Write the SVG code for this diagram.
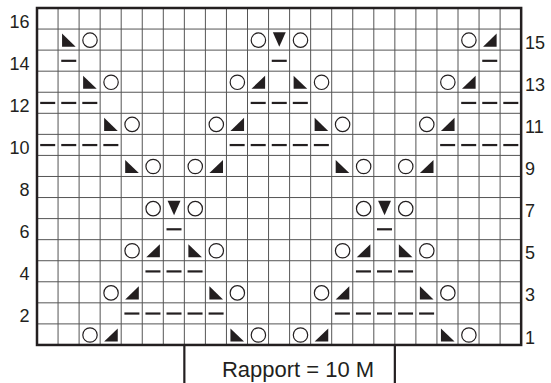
<svg xmlns="http://www.w3.org/2000/svg" xmlns:xlink="http://www.w3.org/1999/xlink" width="551" height="383" viewBox="0 0 551 383">
<style>
.grid{fill:none;stroke:#555;stroke-width:1}
.border{fill:none;stroke:#231f20;stroke-width:2.5}
.box{fill:none;stroke:#231f20;stroke-width:2.2}
.num{font-family:"Liberation Sans",Arial,sans-serif;font-size:18px;fill:#231f20}
.lab{font-family:"Liberation Sans",Arial,sans-serif;font-size:22px;fill:#231f20}
</style>
<defs>
<circle id="yo" cx="10.9" cy="11.1" r="7.2" fill="#fff" stroke="#231f20" stroke-width="1.2"/>
<polygon id="kl" points="4,4.5 4,17.6 17.6,17.6" fill="#231f20"/>
<polygon id="kr" points="17.6,4.5 17.6,17.6 4,17.6" fill="#231f20"/>
<polygon id="dd" points="4.3,3.2 17.2,3.2 10.75,17.6" fill="#231f20"/>
<rect id="pm" x="3.2" y="9.6" width="15" height="2.2" fill="#231f20"/>
</defs>
<rect width="551" height="383" fill="#fff"/>
<g id="grid">
<path class="grid" d="M58.05,8V344.96M79.1,8V344.96M100.15,8V344.96M121.2,8V344.96M142.25,8V344.96M163.3,8V344.96M184.35,8V344.96M205.4,8V344.96M226.45,8V344.96M247.5,8V344.96M268.55,8V344.96M289.6,8V344.96M310.65,8V344.96M331.7,8V344.96M352.75,8V344.96M373.8,8V344.96M394.85,8V344.96M415.9,8V344.96M436.95,8V344.96M458,8V344.96M479.05,8V344.96M500.1,8V344.96M37,29.06H521.15M37,50.12H521.15M37,71.18H521.15M37,92.24H521.15M37,113.3H521.15M37,134.36H521.15M37,155.42H521.15M37,176.48H521.15M37,197.54H521.15M37,218.6H521.15M37,239.66H521.15M37,260.72H521.15M37,281.78H521.15M37,302.84H521.15M37,323.9H521.15"/>
<rect class="border" x="37" y="8" width="484.15" height="336.96"/>
</g>
<g id="symbols">
<g id="row1">
<use xlink:href="#yo" x="79.1" y="323.9"/><use xlink:href="#kr" x="100.15" y="323.9"/>
<use xlink:href="#kl" x="226.45" y="323.9"/><use xlink:href="#yo" x="247.5" y="323.9"/>
<use xlink:href="#yo" x="289.6" y="323.9"/><use xlink:href="#kr" x="310.65" y="323.9"/>
<use xlink:href="#kl" x="436.95" y="323.9"/><use xlink:href="#yo" x="458" y="323.9"/>
</g>
<g id="row2">
<use xlink:href="#pm" x="121.2" y="302.84"/><use xlink:href="#pm" x="142.25" y="302.84"/><use xlink:href="#pm" x="163.3" y="302.84"/><use xlink:href="#pm" x="184.35" y="302.84"/><use xlink:href="#pm" x="205.4" y="302.84"/>
<use xlink:href="#pm" x="331.7" y="302.84"/><use xlink:href="#pm" x="352.75" y="302.84"/><use xlink:href="#pm" x="373.8" y="302.84"/><use xlink:href="#pm" x="394.85" y="302.84"/><use xlink:href="#pm" x="415.9" y="302.84"/>
</g>
<g id="row3">
<use xlink:href="#yo" x="100.15" y="281.78"/><use xlink:href="#kr" x="121.2" y="281.78"/>
<use xlink:href="#kl" x="205.4" y="281.78"/><use xlink:href="#yo" x="226.45" y="281.78"/>
<use xlink:href="#yo" x="310.65" y="281.78"/><use xlink:href="#kr" x="331.7" y="281.78"/>
<use xlink:href="#kl" x="415.9" y="281.78"/><use xlink:href="#yo" x="436.95" y="281.78"/>
</g>
<g id="row4">
<use xlink:href="#pm" x="142.25" y="260.72"/><use xlink:href="#pm" x="163.3" y="260.72"/><use xlink:href="#pm" x="184.35" y="260.72"/>
<use xlink:href="#pm" x="352.75" y="260.72"/><use xlink:href="#pm" x="373.8" y="260.72"/><use xlink:href="#pm" x="394.85" y="260.72"/>
</g>
<g id="row5">
<use xlink:href="#yo" x="121.2" y="239.66"/><use xlink:href="#kr" x="142.25" y="239.66"/>
<use xlink:href="#kl" x="184.35" y="239.66"/><use xlink:href="#yo" x="205.4" y="239.66"/>
<use xlink:href="#yo" x="331.7" y="239.66"/><use xlink:href="#kr" x="352.75" y="239.66"/>
<use xlink:href="#kl" x="394.85" y="239.66"/><use xlink:href="#yo" x="415.9" y="239.66"/>
</g>
<g id="row6">
<use xlink:href="#pm" x="163.3" y="218.6"/><use xlink:href="#pm" x="373.8" y="218.6"/>
</g>
<g id="row7">
<use xlink:href="#yo" x="142.25" y="197.54"/><use xlink:href="#dd" x="163.3" y="197.54"/><use xlink:href="#yo" x="184.35" y="197.54"/>
<use xlink:href="#yo" x="352.75" y="197.54"/><use xlink:href="#dd" x="373.8" y="197.54"/><use xlink:href="#yo" x="394.85" y="197.54"/>
</g>
<g id="row9">
<use xlink:href="#kl" x="121.2" y="155.42"/><use xlink:href="#yo" x="142.25" y="155.42"/>
<use xlink:href="#yo" x="184.35" y="155.42"/><use xlink:href="#kr" x="205.4" y="155.42"/>
<use xlink:href="#kl" x="331.7" y="155.42"/><use xlink:href="#yo" x="352.75" y="155.42"/>
<use xlink:href="#yo" x="394.85" y="155.42"/><use xlink:href="#kr" x="415.9" y="155.42"/>
</g>
<g id="row10">
<use xlink:href="#pm" x="37" y="134.36"/><use xlink:href="#pm" x="58.05" y="134.36"/><use xlink:href="#pm" x="79.1" y="134.36"/><use xlink:href="#pm" x="100.15" y="134.36"/>
<use xlink:href="#pm" x="226.45" y="134.36"/><use xlink:href="#pm" x="247.5" y="134.36"/><use xlink:href="#pm" x="268.55" y="134.36"/><use xlink:href="#pm" x="289.6" y="134.36"/><use xlink:href="#pm" x="310.65" y="134.36"/>
<use xlink:href="#pm" x="436.95" y="134.36"/><use xlink:href="#pm" x="458" y="134.36"/><use xlink:href="#pm" x="479.05" y="134.36"/><use xlink:href="#pm" x="500.1" y="134.36"/>
</g>
<g id="row11">
<use xlink:href="#kl" x="100.15" y="113.3"/><use xlink:href="#yo" x="121.2" y="113.3"/>
<use xlink:href="#yo" x="205.4" y="113.3"/><use xlink:href="#kr" x="226.45" y="113.3"/>
<use xlink:href="#kl" x="310.65" y="113.3"/><use xlink:href="#yo" x="331.7" y="113.3"/>
<use xlink:href="#yo" x="415.9" y="113.3"/><use xlink:href="#kr" x="436.95" y="113.3"/>
</g>
<g id="row12">
<use xlink:href="#pm" x="37" y="92.24"/><use xlink:href="#pm" x="58.05" y="92.24"/><use xlink:href="#pm" x="79.1" y="92.24"/>
<use xlink:href="#pm" x="247.5" y="92.24"/><use xlink:href="#pm" x="268.55" y="92.24"/><use xlink:href="#pm" x="289.6" y="92.24"/>
<use xlink:href="#pm" x="458" y="92.24"/><use xlink:href="#pm" x="479.05" y="92.24"/><use xlink:href="#pm" x="500.1" y="92.24"/>
</g>
<g id="row13">
<use xlink:href="#kl" x="79.1" y="71.18"/><use xlink:href="#yo" x="100.15" y="71.18"/>
<use xlink:href="#yo" x="226.45" y="71.18"/><use xlink:href="#kr" x="247.5" y="71.18"/>
<use xlink:href="#kl" x="289.6" y="71.18"/><use xlink:href="#yo" x="310.65" y="71.18"/>
<use xlink:href="#yo" x="436.95" y="71.18"/><use xlink:href="#kr" x="458" y="71.18"/>
</g>
<g id="row14">
<use xlink:href="#pm" x="58.05" y="50.12"/><use xlink:href="#pm" x="268.55" y="50.12"/><use xlink:href="#pm" x="479.05" y="50.12"/>
</g>
<g id="row15">
<use xlink:href="#kl" x="58.05" y="29.06"/><use xlink:href="#yo" x="79.1" y="29.06"/>
<use xlink:href="#yo" x="247.5" y="29.06"/><use xlink:href="#dd" x="268.55" y="29.06"/><use xlink:href="#yo" x="289.6" y="29.06"/>
<use xlink:href="#yo" x="458" y="29.06"/><use xlink:href="#kr" x="479.05" y="29.06"/>
</g>
</g>
<g id="row-labels">
<text class="num" text-anchor="end" x="29.5" y="27.6">16</text>
<text class="num" text-anchor="end" x="29.5" y="69.7">14</text>
<text class="num" text-anchor="end" x="29.5" y="111.8">12</text>
<text class="num" text-anchor="end" x="29.5" y="153.9">10</text>
<text class="num" text-anchor="end" x="29.5" y="196">8</text>
<text class="num" text-anchor="end" x="29.5" y="238.2">6</text>
<text class="num" text-anchor="end" x="29.5" y="280.3">4</text>
<text class="num" text-anchor="end" x="29.5" y="322.4">2</text>
<text class="num" x="525" y="48.6">15</text>
<text class="num" x="525" y="90.7">13</text>
<text class="num" x="525" y="132.9">11</text>
<text class="num" x="525" y="175">9</text>
<text class="num" x="525" y="217.1">7</text>
<text class="num" x="525" y="259.2">5</text>
<text class="num" x="525" y="301.3">3</text>
<text class="num" x="525" y="343.5">1</text>
</g>
<g id="rapport">
<path class="box" d="M184.35,345V383M394.85,345V383"/>
<text class="lab" text-anchor="middle" x="298" y="377">Rapport = 10 M</text>
</g>
</svg>
